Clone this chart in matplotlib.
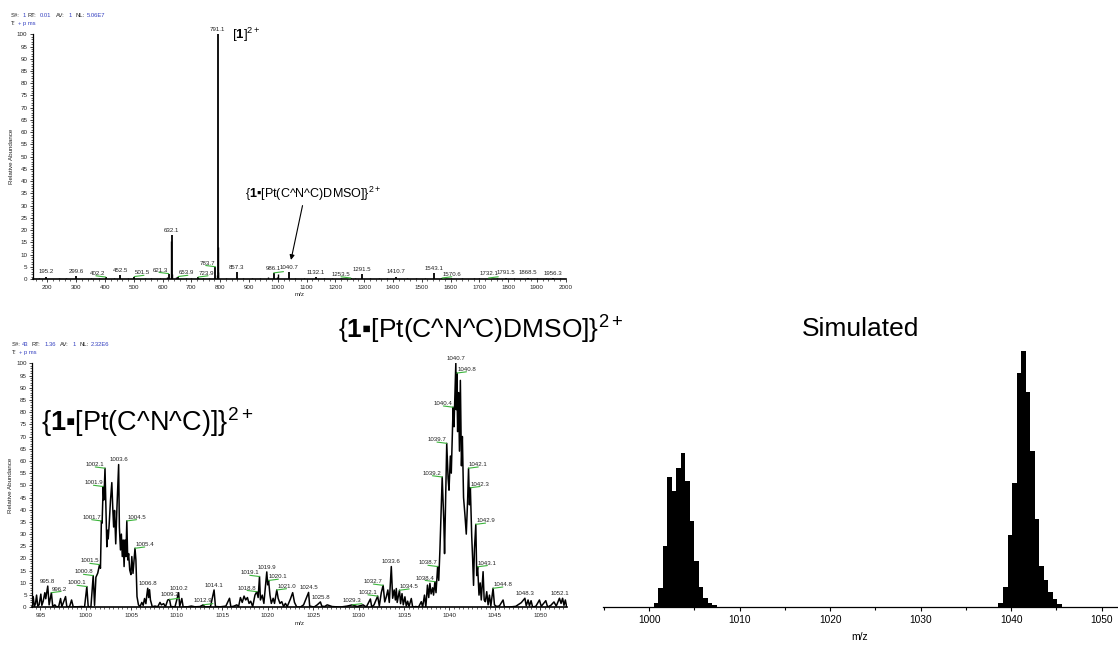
import numpy as np
import matplotlib.pyplot as plt
from matplotlib.ticker import MultipleLocator

plt.rcParams['font.family'] = ['Liberation Sans', 'DejaVu Sans']
plt.rcParams['mathtext.fontset'] = 'custom'
plt.rcParams['mathtext.rm'] = 'Liberation Sans'
plt.rcParams['mathtext.bf'] = 'Liberation Sans:bold'
plt.rcParams['mathtext.fallback'] = 'stixsans'

# full scan: labelled peaks (m/z, relative abundance)
full_mz = [195.2, 299.6, 402.2, 452.5, 501.5, 621.3, 632.1, 653.9, 723.9, 783.7,
           791.1, 857.3, 986.1, 1040.7, 1132.1, 1253.5, 1291.5, 1410.7, 1543.1,
           1570.6, 1732.1, 1791.5, 1868.5, 1956.3]
full_int = [1.0, 1.2, 0.8, 1.5, 1.0, 2.2, 18.0, 1.0, 0.8, 5.0,
            100.0, 3.0, 2.5, 3.0, 0.8, 0.4, 2.0, 1.0, 2.5,
            0.4, 0.4, 0.6, 0.6, 0.4]
full_side = ['c', 'c', 'l', 'c', 'r', 'l', 'c', 'r', 'r', 'l',
             'c', 'c', 'c', 'c', 'c', 'l', 'c', 'c', 'c',
             'r', 'c', 'c', 'c', 'c']
full_green = [402.2, 501.5, 621.3, 653.9, 723.9, 783.7, 986.1, 1253.5, 1570.6, 1732.1]

# full scan: unlabelled sticks
minor_mz = [170, 240, 265, 350, 380, 430, 480, 540, 560, 590, 615, 628.5, 634.0,
            645, 680, 700, 740, 760, 788.0, 792.1, 793.1, 820, 880, 910, 940, 965,
            996, 1000.5, 1060, 1090, 1160, 1190, 1220, 1270, 1320, 1350, 1380, 1450,
            1480, 1510, 1600, 1640, 1680, 1700, 1760, 1820, 1900, 1930, 1980]
minor_int = [0.4, 0.5, 0.3, 0.6, 0.4, 0.5, 0.4, 0.6, 0.5, 0.4, 1.0, 15.5, 2.0,
             0.8, 0.5, 0.4, 0.5, 0.6, 1.5, 13.0, 3.0, 0.6, 0.5, 0.4, 0.6, 0.8,
             1.0, 2.0, 0.5, 0.6, 0.4, 0.5, 0.4, 0.6, 0.5, 0.4, 0.6, 0.5,
             0.4, 0.5, 0.6, 0.4, 0.5, 0.4, 0.5, 0.4, 0.5, 0.4, 0.3]

# zoomed scan, profile data
prof_mz = [994.10, 994.20, 994.32, 994.45, 994.57, 994.70, 994.85, 995.04, 995.15, 995.30,
           995.48, 995.58, 995.80, 995.95, 996.20, 996.35, 996.58, 996.75, 997.00, 997.21,
           997.35, 997.76, 997.90, 998.20, 998.42, 998.60, 999.00, 999.50, 999.85, 1000.10,
           1000.25, 1000.55, 1000.80, 1000.95, 1001.10, 1001.30, 1001.50, 1001.60, 1001.70, 1001.78,
           1001.90, 1001.98, 1002.10, 1002.20, 1002.30, 1002.38, 1002.45, 1002.55, 1002.70, 1002.85,
           1002.95, 1003.05, 1003.15, 1003.28, 1003.40, 1003.60, 1003.68, 1003.80, 1003.90, 1004.00,
           1004.10, 1004.20, 1004.30, 1004.40, 1004.50, 1004.60, 1004.70, 1004.82, 1004.95, 1005.05,
           1005.18, 1005.40, 1005.50, 1005.62, 1005.78, 1005.95, 1006.15, 1006.30, 1006.45, 1006.60,
           1006.70, 1006.80, 1006.90, 1007.00, 1007.10, 1007.30, 1007.60, 1007.90, 1008.15, 1008.30,
           1008.55, 1008.75, 1009.00, 1009.20, 1009.35, 1009.80, 1010.20, 1010.32, 1010.55, 1010.70,
           1011.20, 1011.60, 1012.00, 1012.55, 1012.90, 1013.10, 1013.70, 1014.10, 1014.25, 1014.80,
           1015.40, 1015.80, 1015.95, 1016.30, 1016.60, 1016.80, 1017.00, 1017.20, 1017.40, 1017.58,
           1017.77, 1017.95, 1018.13, 1018.35, 1018.60, 1018.80, 1018.95, 1019.10, 1019.20, 1019.40,
           1019.58, 1019.90, 1020.00, 1020.10, 1020.25, 1020.40, 1020.60, 1020.75, 1021.00, 1021.15,
           1021.35, 1021.55, 1021.75, 1021.95, 1022.15, 1022.50, 1022.75, 1022.95, 1023.20, 1023.60,
           1023.95, 1024.50, 1024.62, 1025.10, 1025.45, 1025.80, 1025.95, 1026.25, 1026.55, 1027.10,
           1028.00, 1028.75, 1029.30, 1029.85, 1030.50, 1030.85, 1031.30, 1031.45, 1031.70, 1032.10,
           1032.28, 1032.50, 1032.70, 1032.88, 1033.05, 1033.22, 1033.38, 1033.60, 1033.75, 1033.92,
           1034.05, 1034.15, 1034.25, 1034.50, 1034.62, 1034.78, 1034.92, 1035.10, 1035.25, 1035.40,
           1035.55, 1035.80, 1035.95, 1036.30, 1036.60, 1036.90, 1037.05, 1037.25, 1037.40, 1037.58,
           1037.72, 1037.85, 1037.98, 1038.15, 1038.25, 1038.40, 1038.52, 1038.70, 1038.82, 1038.95,
           1039.20, 1039.38, 1039.46, 1039.70, 1039.85, 1039.95, 1040.10, 1040.20, 1040.40, 1040.50,
           1040.70, 1040.75, 1040.80, 1040.90, 1041.00, 1041.10, 1041.20, 1041.32, 1041.42, 1041.55,
           1041.70, 1041.85, 1042.00, 1042.10, 1042.20, 1042.30, 1042.45, 1042.55, 1042.65, 1042.75,
           1042.90, 1043.00, 1043.10, 1043.25, 1043.38, 1043.50, 1043.70, 1043.82, 1043.95, 1044.10,
           1044.25, 1044.40, 1044.55, 1044.80, 1044.95, 1045.20, 1045.50, 1045.90, 1046.05, 1046.60,
           1047.30, 1047.90, 1048.30, 1048.45, 1048.65, 1048.80, 1048.98, 1049.15, 1049.50, 1049.90,
           1050.10, 1050.60, 1050.80, 1051.15, 1051.50, 1051.75, 1052.10, 1052.28, 1052.45, 1052.60,
           1052.75, 1052.90]
prof_int = [0.5, 4.4, 0.3, 1.5, 5.0, 0.5, 1.0, 5.4, 0.8, 2.5,
            6.0, 3.5, 8.7, 1.0, 6.0, 0.3, 1.0, 0.2, 0.3, 3.6,
            0.2, 4.4, 0.2, 0.3, 3.0, 0.2, 0.2, 0.3, 0.2, 8.5,
            0.3, 0.2, 13.0, 0.8, 12.3, 14.0, 17.5, 16.0, 35.4, 34.5,
            49.5, 44.0, 57.0, 40.0, 24.8, 31.6, 28.0, 33.4, 43.6, 51.1,
            41.0, 32.9, 39.7, 26.0, 39.5, 58.5, 32.9, 23.5, 30.0, 20.8,
            27.6, 16.7, 27.6, 20.8, 35.4, 19.4, 22.0, 15.3, 13.4, 20.8,
            13.9, 24.2, 19.4, 4.4, 1.0, 0.3, 2.0, 0.8, 3.6, 1.5,
            5.0, 7.8, 4.0, 7.2, 3.0, 0.2, 0.5, 0.2, 2.0, 1.0,
            1.5, 0.2, 3.0, 3.2, 0.3, 0.2, 6.0, 0.4, 3.6, 0.1,
            0.2, 0.5, 0.2, 0.3, 1.0, 0.1, 0.2, 7.1, 0.3, 0.2,
            0.5, 3.7, 0.2, 0.5, 1.0, 0.3, 4.0, 2.0, 4.6, 3.0,
            4.0, 1.6, 2.5, 0.3, 5.0, 6.4, 4.0, 12.6, 3.0, 5.0,
            1.6, 14.5, 9.2, 11.0, 5.0, 1.6, 3.7, 1.6, 7.1, 3.7,
            1.6, 2.3, 0.3, 1.6, 0.3, 3.4, 6.0, 2.0, 0.1, 0.1,
            1.0, 6.1, 0.5, 0.1, 1.0, 2.2, 0.5, 0.3, 1.0, 0.3,
            0.1, 0.5, 1.0, 0.3, 1.0, 0.1, 3.4, 0.1, 1.0, 4.6,
            0.5, 6.0, 9.0, 2.2, 4.3, 7.1, 2.0, 16.7, 3.7, 7.1,
            3.0, 7.7, 2.0, 7.0, 1.5, 5.6, 1.0, 4.3, 0.5, 2.5,
            0.3, 3.6, 0.1, 0.3, 0.1, 2.3, 0.1, 5.0, 0.1, 9.1,
            4.0, 9.8, 5.5, 8.0, 5.0, 10.5, 6.0, 16.7, 11.0, 23.5,
            53.4, 35.0, 22.0, 67.2, 52.9, 48.0, 62.0, 55.0, 82.0, 74.0,
            100.0, 81.0, 96.0, 72.0, 88.0, 64.0, 93.0, 58.0, 70.0, 45.0,
            38.0, 30.0, 44.0, 57.0, 42.0, 49.0, 29.0, 20.0, 9.0, 24.0,
            34.0, 13.0, 16.6, 5.0, 10.0, 3.0, 14.6, 3.0, 2.3, 6.4,
            1.0, 5.0, 0.5, 7.8, 1.0, 0.3, 0.6, 3.0, 0.1, 0.1,
            0.4, 1.9, 3.7, 0.6, 3.0, 0.6, 2.7, 0.1, 0.4, 3.0,
            0.4, 2.7, 0.1, 0.8, 2.2, 0.5, 3.7, 1.6, 3.7, 0.8,
            3.0, 0.1]

# zoomed scan: labelled peaks
zoom_lab = [995.8, 996.2, 1000.1, 1000.8, 1001.5, 1001.7, 1001.9, 1002.1, 1003.6, 1004.5,
            1005.4, 1006.8, 1009.2, 1010.2, 1012.9, 1014.1, 1018.8, 1019.1, 1019.9, 1020.1,
            1021.0, 1024.5, 1025.8, 1029.3, 1032.1, 1032.7, 1033.6, 1034.5, 1038.4, 1038.7,
            1039.2, 1039.7, 1040.4, 1040.7, 1040.8, 1042.1, 1042.3, 1042.9, 1043.1, 1044.8,
            1048.3, 1052.1]
zoom_side = ['c', 'r', 'l', 'l', 'l', 'l', 'l', 'l', 'c', 'r',
             'r', 'c', 'c', 'c', 'c', 'c', 'l', 'l', 'c', 'r',
             'r', 'c', 'c', 'c', 'l', 'l', 'c', 'r', 'l', 'l',
             'l', 'l', 'l', 'c', 'r', 'r', 'r', 'r', 'r', 'r',
             'c', 'c']
zoom_plain = [995.8, 1003.6, 1006.8, 1010.2, 1014.1, 1019.9, 1024.5, 1025.8, 1033.6,
              1040.7, 1048.3, 1052.1]

# simulated isotope patterns
sim_mz_a = [1000.75, 1001.25, 1001.75, 1002.25, 1002.75, 1003.25, 1003.75, 1004.25,
            1004.75, 1005.25, 1005.75, 1006.25, 1006.75, 1007.25]
sim_int_a = [1.3, 7.4, 23.9, 50.6, 45.2, 54.1, 60.0, 49.2, 33.4, 18.0, 7.8, 3.4, 1.6, 0.7]
sim_mz_b = [1038.85, 1039.35, 1039.85, 1040.35, 1040.85, 1041.35, 1041.85, 1042.35,
            1042.85, 1043.35, 1043.85, 1044.35, 1044.85, 1045.35]
sim_int_b = [1.6, 7.8, 28.0, 48.2, 91.3, 100.0, 84.1, 60.9, 34.2, 16.0, 10.4, 5.9, 2.9, 1.0]

W, H = 1118, 648
GREEN = '#3cb43c'
BLUE = '#3440c0'
TXT = '#222222'

fig = plt.figure(figsize=(W / 100, H / 100), dpi=100)


def rect(l, t, r, b):
    return [l / W, 1 - b / H, (r - l) / W, (b - t) / H]


def xcal_axes(ax, xlim, xmaj, xmin):
    ax.set_xlim(*xlim)
    ax.set_ylim(0, 100)
    for s in ('top', 'right'):
        ax.spines[s].set_visible(False)
    ax.spines['left'].set_linewidth(0.9)
    ax.spines['bottom'].set_linewidth(1.2)
    ax.yaxis.set_major_locator(MultipleLocator(5))
    ax.yaxis.set_minor_locator(MultipleLocator(1))
    ax.xaxis.set_major_locator(MultipleLocator(xmaj))
    ax.xaxis.set_minor_locator(MultipleLocator(xmin))
    ax.tick_params(which='major', length=2.5, width=0.6, labelsize=4.5, pad=1.5,
                   colors=TXT)
    ax.tick_params(which='minor', length=1.5, width=0.5, colors=TXT)
    ax.set_ylabel('Relative Abundance', fontsize=4.5, labelpad=2, color=TXT)
    ax.set_xlabel('m/z', fontsize=4.5, labelpad=2, color=TXT)


def peak_label(ax, mz, inten, side, green, fs=4.4):
    txt = f'{mz:.1f}'
    if side == 'c':
        ax.annotate(txt, (mz, inten), xytext=(0, 1.5), textcoords='offset points',
                    ha='center', va='bottom', fontsize=fs, color=TXT)
        sgn = 1
    else:
        sgn = -1 if side == 'l' else 1
        ax.annotate(txt, (mz, inten), xytext=(sgn * 0.3, 0.8), textcoords='offset points',
                    ha='right' if side == 'l' else 'left', va='bottom', fontsize=fs,
                    color=TXT)
    if green:
        ax.annotate('', (mz, inten), xytext=(sgn * 7, 0.9), textcoords='offset points',
                    arrowprops=dict(arrowstyle='-', color=GREEN, lw=0.8,
                                    shrinkA=0, shrinkB=0))


def header(y, pieces):
    for x, s, col in pieces:
        fig.text(x / W, 1 - y / H, s, fontsize=4.2, color=col, va='center', ha='left')


# ---- full scan ----
ax1 = fig.add_axes(rect(33, 34.3, 565.7, 279))
ax1.vlines(minor_mz, 0, minor_int, color='k', lw=1.0)
ax1.vlines(full_mz, 0, full_int, color='k', lw=1.3)
xcal_axes(ax1, (150, 2000), 100, 20)
for mz, it, sd in zip(full_mz, full_int, full_side):
    peak_label(ax1, mz, it, sd, mz in full_green)
ax1.annotate('', xy=(1046, 7.8), xytext=(1086, 30),
             arrowprops=dict(arrowstyle='-|>', color='k', lw=0.8, mutation_scale=7,
                             shrinkA=0, shrinkB=0))

header(15.7, [(11, 'S#:', TXT), (22.7, '1', BLUE), (28, 'RT:', TXT), (40, '0.01', BLUE),
              (56, 'AV:', TXT), (68.3, '1', BLUE), (76, 'NL:', TXT), (86.7, '5.06E7', BLUE)])
header(23.3, [(11, 'T:', TXT), (18.3, '+ p ms', BLUE)])

fig.text(231.5 / W, 1 - 35 / H, r'[$\mathbf{1}$]$^{2+}$', fontsize=9.5, va='center')
fig.text(245 / W, 1 - 194 / H, r'{$\mathbf{1}$▪[Pt(C^N^C)DMSO]}$^{2+}$', fontsize=9,
         va='center')

# ---- zoomed scan ----
ax2 = fig.add_axes(rect(32.3, 363.3, 566.7, 607.3))
ax2.plot(prof_mz, prof_int, color='k', lw=1.1)
xcal_axes(ax2, (994.1, 1052.9), 5, 0.5)
for mz, sd in zip(zoom_lab, zoom_side):
    it = float(np.interp(mz, prof_mz, prof_int))
    peak_label(ax2, mz, it, sd, mz not in zoom_plain)

header(344.3, [(11.7, 'S#:', TXT), (22.3, '43', BLUE), (31.7, 'RT:', TXT), (44.3, '1.36', BLUE),
               (60, 'AV:', TXT), (72.7, '1', BLUE), (80, 'NL:', TXT), (91, '2.32E6', BLUE)])
header(352.3, [(11.7, 'T:', TXT), (19, '+ p ms', BLUE)])

fig.text(41 / W, 1 - 422 / H, r'{$\mathbf{1}$▪[Pt(C^N^C)]}$^{2+}$', fontsize=19.5,
         va='center')
fig.text(338 / W, 1 - 329 / H, r'{$\mathbf{1}$▪[Pt(C^N^C)DMSO]}$^{2+}$', fontsize=19,
         va='center')

# ---- simulated pattern ----
ax3 = fig.add_axes(rect(603, 351, 1117, 606.7))
ax3.bar(sim_mz_a, sim_int_a, width=0.5, color='k', linewidth=0)
ax3.bar(sim_mz_b, sim_int_b, width=0.5, color='k', linewidth=0)
ax3.set_xlim(994.9, 1051.7)
ax3.set_ylim(0, 100)
for s in ('top', 'right', 'left'):
    ax3.spines[s].set_visible(False)
ax3.spines['bottom'].set_linewidth(0.9)
ax3.set_yticks([])
ax3.xaxis.set_major_locator(MultipleLocator(10))
ax3.xaxis.set_minor_locator(MultipleLocator(5))
ax3.tick_params(axis='x', which='major', length=3.2, width=0.8, labelsize=7.3, pad=3)
ax3.tick_params(axis='x', which='minor', length=2.5, width=0.8)
ax3.set_xlabel('m/z', fontsize=7.5, labelpad=5)
fig.text(861 / W, 1 - 329 / H, 'Simulated', fontsize=19, ha='center', va='center')

fig.savefig('out.png', dpi=100)
